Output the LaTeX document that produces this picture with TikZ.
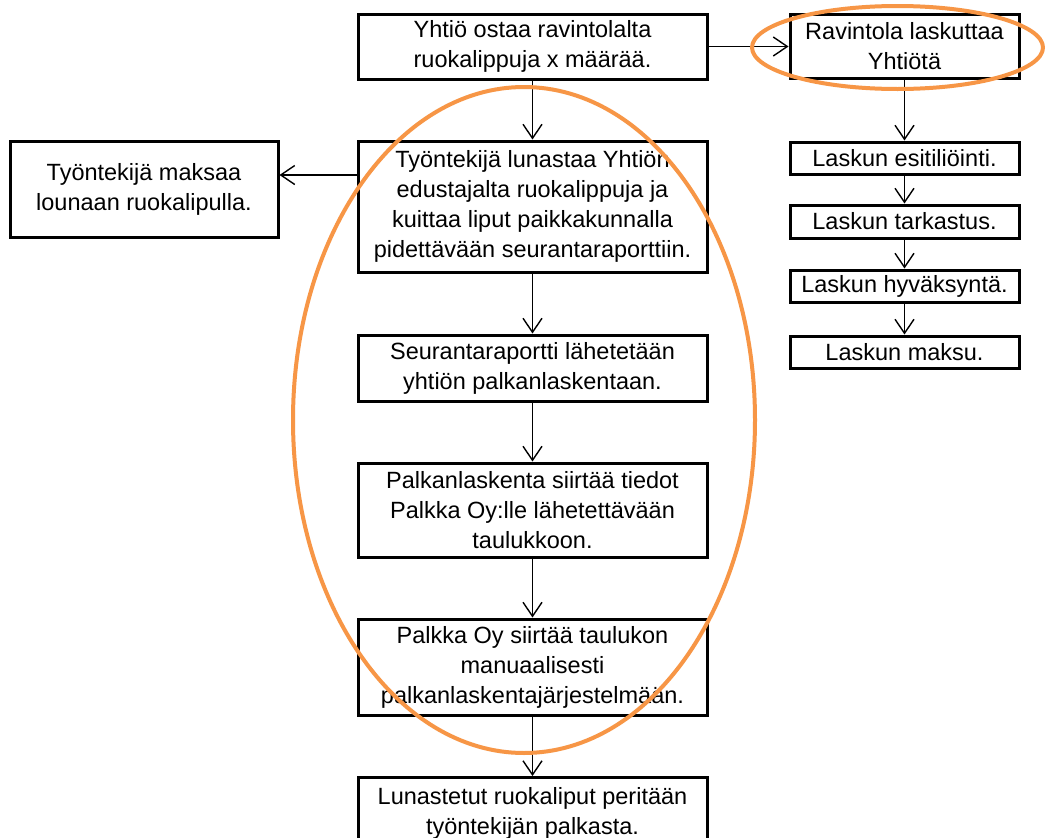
\documentclass[tikz,border=0pt]{standalone}
\usepackage{fontspec}
\setmainfont{Liberation Sans}
\usetikzlibrary{arrows.meta}
\definecolor{hilite}{RGB}{247,150,70}
\begin{document}
\begin{tikzpicture}[x=1pt,y=-1pt,
  stepbox/.style={draw, line width=3pt, align=center, inner sep=0pt,
    font=\fontsize{23.5}{30}\selectfont},
  flow/.style={line width=1.4pt, -{Straight Barb[length=14pt,width=19pt,line width=1.4pt]}},
  ring/.style={draw=hilite, line width=4pt}]
\useasboundingbox (0,0) rectangle (1045,838);
\fill[white] (0,0) rectangle (1045,838);

% main column
\node[stepbox, minimum width=349pt, minimum height=65pt] (b1) at (532.5,46.5)
  {Yhtiö ostaa ravintolalta\\ruokalippuja x määrää.};
\node[stepbox, minimum width=349pt, minimum height=131pt] (b2) at (532.5,206.5)
  {Työntekijä lunastaa Yhtiön\\edustajalta ruokalippuja ja\\kuittaa liput paikkakunnalla\\pidettävään seurantaraporttiin.};
\node[stepbox, minimum width=349pt, minimum height=66pt] (b3) at (532.5,368)
  {Seurantaraportti lähetetään\\yhtiön palkanlaskentaan.};
\node[stepbox, minimum width=349pt, minimum height=94pt] (b4) at (532.5,510)
  {Palkanlaskenta siirtää tiedot\\Palkka Oy:lle lähetettävään\\taulukkoon.};
\node[stepbox, minimum width=349pt, minimum height=96pt] (b5) at (532.5,667)
  {Palkka Oy siirtää taulukon\\manuaalisesti\\palkanlaskentajärjestelmään.};
\node[stepbox, minimum width=349pt, minimum height=72pt, anchor=north] (b6) at (532.5,776)
  {Lunastetut ruokaliput peritään\\työntekijän palkasta.};

% side box
\node[stepbox, minimum width=268pt, minimum height=96pt] (side) at (144,189)
  {Työntekijä maksaa\\lounaan ruokalipulla.};

% invoice column
\node[stepbox, minimum width=229pt, minimum height=64pt] (r0) at (904.5,46)
  {Ravintola laskuttaa\\Yhtiötä};
\node[stepbox, minimum width=229pt, minimum height=32pt] (r1) at (904.5,158)
  {Laskun esitiliöinti.};
\node[stepbox, minimum width=229pt, minimum height=33pt] (r2) at (904.5,221.5)
  {Laskun tarkastus.};
\node[stepbox, minimum width=229pt, minimum height=32pt] (r3) at (904.5,286)
  {Laskun hyväksyntä.};
\node[stepbox, minimum width=229pt, minimum height=32pt] (r4) at (904.5,352)
  {Laskun maksu.};

% connectors
\draw[flow] (b1) -- (b2);
\draw[flow] (b2) -- (b3);
\draw[flow] (b3) -- (b4);
\draw[flow] (b4) -- (b5);
\draw[flow] (b5) -- (b6);
\coordinate (lvl) at (0,175);
\draw[flow] (b2.west |- lvl) -- (side.east |- lvl);
\draw[flow] (b1.east) -- (r0.west |- b1.east);
\draw[flow] (r0) -- (r1);
\draw[flow] (r1) -- (r2);
\draw[flow] (r2) -- (r3);
\draw[flow] (r3) -- (r4);

% highlight rings
\draw[ring] (524,420) ellipse [x radius=231, y radius=333];
\draw[ring] (897.5,47.5) ellipse [x radius=145.5, y radius=41.5];
\end{tikzpicture}
\end{document}
